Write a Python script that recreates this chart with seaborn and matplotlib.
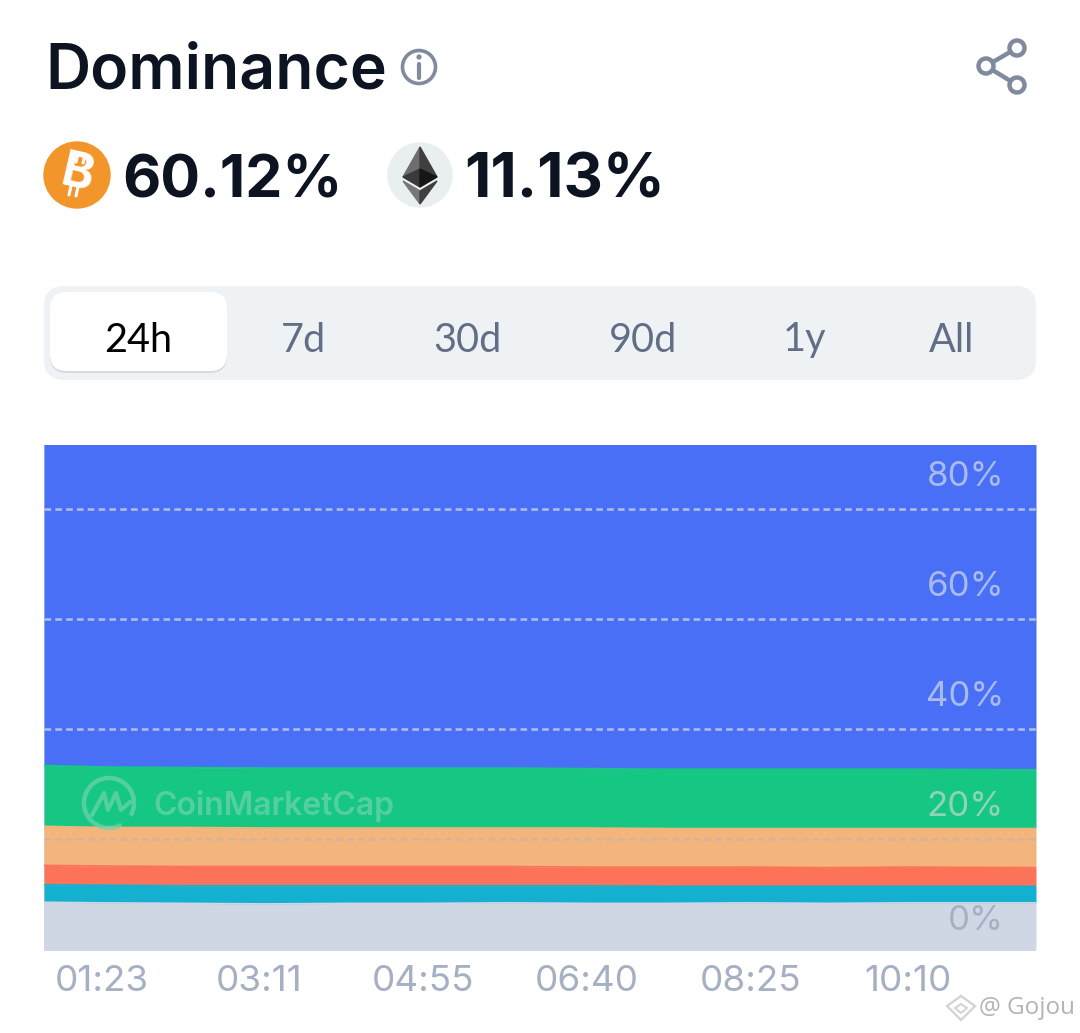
import pandas as pd
import seaborn as sns
import matplotlib.pyplot as plt
from matplotlib.patches import FancyBboxPatch, Circle, Polygon, Arc

# data (minutes since midnight, % dominance per band)
minutes = [45, 83, 137, 191, 243, 295, 348, 400, 453, 505, 558, 610, 694]
others = [8.5, 8.4, 8.3, 8.2, 8.3, 8.3, 8.4, 8.3, 8.3, 8.4, 8.3, 8.4, 8.4]
cyan_coin = [3.2, 3.2, 3.2, 3.3, 3.2, 3.2, 3.1, 3.2, 3.1, 3.0, 3.1, 3.0, 3.0]
red_coin = [3.5, 3.5, 3.5, 3.5, 3.5, 3.5, 3.5, 3.4, 3.5, 3.5, 3.4, 3.5, 3.4]
orange_coin = [7.1, 7.0, 7.1, 7.0, 7.0, 7.0, 7.0, 7.1, 7.0, 7.0, 7.1, 7.0, 7.1]
eth = [11.1, 11.0, 10.9, 10.9, 10.9, 10.9, 10.9, 10.8, 10.8, 10.8, 10.8, 10.8, 10.7]
btc = [60.1, 60.1, 60.1, 60.1, 60.1, 60.1, 60.1, 60.1, 60.1, 60.1, 60.1, 60.1, 60.1]

band_names = ['others', 'cyan', 'red', 'orange', 'eth', 'btc']
band_colors = ['#cfd6e4', '#13b0cf', '#fd7359', '#f4b57c', '#16c784', '#486ff5']

x_ticks = [83, 186, 293, 400, 507, 610]
x_labels = ['01:23', '03:11', '04:55', '06:40', '08:25', '10:10']
grid_values = [20, 40, 60, 80]
grid_colors = ['#c4b4a8', '#cfd6e4', '#cfd6e4', '#cfd6e4']
y_label_values = [0, 20, 40, 60, 80]
y_label_colors = ['#a6b0c3', '#8fd3b8', '#a9bbee', '#a9bbee', '#a9bbee']
tab_names = ['24h', '7d', '30d', '90d', '1y', 'All']
tab_centers = [138, 303, 467, 643, 804, 952]

sns.set_theme(style='white')
plt.rcParams['font.family'] = ['Inter', 'DejaVu Sans']

df = pd.DataFrame(dict(zip(band_names, [others, cyan_coin, red_coin, orange_coin, eth, btc])), index=minutes)
tops = df.cumsum(axis=1)

fig = plt.figure(figsize=(10.8, 10.33), dpi=100, facecolor='white')
ax = fig.add_axes([44 / 1080, (1033 - 951) / 1033, 992 / 1080, 506 / 1033])
ax.set_facecolor(band_colors[0])

ax.stackplot(minutes, [df[n] for n in band_names], colors=band_colors, linewidth=0)
for n, c in zip(band_names[:-1], band_colors[:-1]):
    sns.lineplot(x=minutes, y=tops[n].values, color=c, linewidth=1.2, ax=ax, legend=False)

ax.set_xlim(45, 694)
ax.set_ylim(-0.36, 91.64)
ax.set_xticks(x_ticks)
ax.set_xticklabels(x_labels, fontsize=26.5, color='#a6b0c3')
ax.tick_params(axis='x', length=0, pad=10)
ax.set_yticks([])
for s in ax.spines.values():
    s.set_visible(False)

for g, c in zip(grid_values, grid_colors):
    ax.axhline(g, color=c, lw=1.9, dashes=(2.5, 1.6), alpha=0.75, zorder=5)

for v, c in zip(y_label_values, y_label_colors):
    off = 20.5 if v == 0 else 23
    ax.annotate(f'{v}%', (1, v), xycoords=ax.get_yaxis_transform(), xytext=(-23, off),
                textcoords='offset points', ha='right', va='center', fontsize=25,
                color=c, zorder=6)

# page furniture drawn in pixel coordinates
ui = fig.add_axes([0, 0, 1, 1], zorder=10)
ui.set_xlim(0, 1080)
ui.set_ylim(1033, 0)
ui.axis('off')
ui.patch.set_alpha(0)

dark = '#0d1421'
grey = '#808a9d'
ui.text(45, 72, 'Dominance', fontsize=45, fontweight='semibold', color=dark, va='center')
ui.add_patch(Circle((419, 67), 16.5, fill=False, ec=grey, lw=2.6))
ui.plot([419, 419], [64, 78], color=grey, lw=3)
ui.add_patch(Circle((419, 57), 1.9, color=grey))

# share icon
ui.plot([1017, 986, 1017], [48, 66, 85], color=grey, lw=3.2, zorder=1)
for cx, cy in [(1017, 48), (986, 66), (1017, 85)]:
    ui.add_patch(Circle((cx, cy), 7.5, fc='white', ec=grey, lw=3.2, zorder=2))

# coin values
ui.add_patch(Circle((77, 175), 33, color='#f2952a'))
ui.plot([78, 76], [154, 162], color='white', lw=2.2)
ui.plot([85, 83], [155, 163], color='white', lw=2.2)
ui.plot([71, 69], [186, 195], color='white', lw=2.2)
ui.plot([78, 76], [187, 196], color='white', lw=2.2)
ui.text(77, 175, 'B', fontsize=35, fontweight='bold', color='white', ha='center', va='center', rotation=-13)
ui.text(122, 182, '60.12%', fontsize=42.5, fontweight='bold', color=dark, va='center')

ui.add_patch(Circle((420, 175), 32, color='#e9eef0'))
ui.add_patch(Polygon([(420, 147), (403, 177), (420, 169)], color='#6e6e6e'))
ui.add_patch(Polygon([(420, 147), (437, 177), (420, 169)], color='#3f3f3f'))
ui.add_patch(Polygon([(403, 177), (420, 169), (420, 187)], color='#3a3a3a'))
ui.add_patch(Polygon([(437, 177), (420, 169), (420, 187)], color='#161616'))
ui.add_patch(Polygon([(403, 181), (420, 191), (420, 204)], color='#777777'))
ui.add_patch(Polygon([(437, 181), (420, 191), (420, 204)], color='#3f3f3f'))
ui.text(464, 182, '11.13%', fontsize=44, fontweight='bold', color=dark, va='center')

# range tabs
ui.add_patch(FancyBboxPatch((44, 286), 992, 94, boxstyle='round,pad=0,rounding_size=20',
                            mutation_aspect=1, fc='#eff2f5', ec='none'))
ui.add_patch(FancyBboxPatch((50, 294), 177, 79, boxstyle='round,pad=0,rounding_size=17', fc='#d5dae3', ec='none'))
ui.add_patch(FancyBboxPatch((50, 292), 177, 79, boxstyle='round,pad=0,rounding_size=17', fc='white', ec='none'))
for name, cx in zip(tab_names, tab_centers):
    ui.text(cx, 340, name, fontsize=28.5, family=['Lato', 'DejaVu Sans'], ha='center', va='center',
            color='black' if name == '24h' else '#616e85')

# watermarks
wm = '#6fd3ad'
ui.text(153, 806, 'CoinMarketCap', fontsize=23, fontweight='semibold', color=wm, alpha=0.7, va='center')
ui.add_patch(Arc((109, 803), 50, 50, theta1=60, theta2=390, ec=wm, lw=3.2, alpha=0.7))
ui.plot([92, 104, 108, 116, 121, 130], [815, 793, 810, 793, 810, 802], color=wm, lw=3, alpha=0.7)

ui.add_patch(Polygon([(961, 996), (975, 1006), (961, 1020), (947, 1006)], fill=False, ec='#cfd2d8', lw=1.6))
ui.add_patch(Polygon([(961, 1004), (967, 1008), (961, 1013), (955, 1008)], fill=False, ec='#cfd2d8', lw=1.4))
ui.text(979, 1008, '@ Gojou', fontsize=17.5, color='#b0b4bb', va='center', family=['Open Sans', 'DejaVu Sans'])

fig.savefig('out.png', dpi=100)
